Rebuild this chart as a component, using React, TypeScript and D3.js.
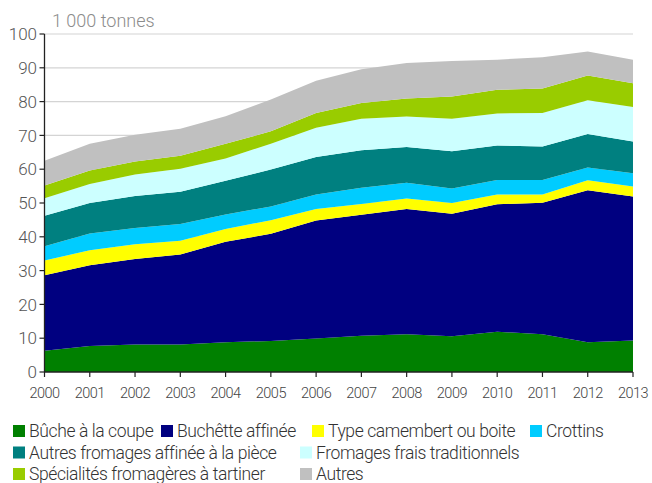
import React from "react";
import * as d3 from "d3";

const years = [2000, 2001, 2002, 2003, 2004, 2005, 2006, 2007, 2008, 2009, 2010, 2011, 2012, 2013];
const buche = [6.3, 7.7, 8.1, 8.1, 8.8, 9.2, 9.9, 10.7, 11.2, 10.6, 11.9, 11.2, 8.8, 9.3];
const buchette = [22.3, 23.9, 25.3, 26.7, 29.7, 31.7, 34.9, 35.8, 37.0, 36.2, 37.7, 38.9, 45.0, 42.6];
const camembert = [4.4, 4.4, 4.4, 4.0, 3.8, 4.0, 3.4, 3.2, 3.1, 3.2, 2.9, 2.4, 2.9, 3.0];
const crottins = [4.2, 5.0, 4.8, 5.0, 4.3, 4.1, 4.3, 4.8, 4.7, 4.3, 4.3, 4.3, 3.8, 3.9];
const autresAffines = [9.0, 9.0, 9.5, 9.5, 10.0, 10.9, 11.1, 11.1, 10.6, 11.0, 10.2, 9.9, 9.9, 9.4];
const fraisTrad = [5.2, 5.6, 6.3, 6.8, 6.6, 7.6, 8.7, 9.3, 9.0, 9.6, 9.5, 9.9, 10.0, 10.2];
const tartiner = [3.8, 4.0, 3.9, 3.9, 4.3, 3.7, 4.3, 4.7, 5.3, 6.6, 7.0, 7.3, 7.3, 7.0];
const autres = [7.3, 7.9, 7.9, 8.0, 8.2, 9.4, 9.6, 10.0, 10.5, 10.5, 8.9, 9.2, 7.1, 7.0];

const seriesNames = [
  "Bûche à la coupe",
  "Buchêtte affinée",
  "Type camembert ou boite",
  "Crottins",
  "Autres fromages affinée à la pièce",
  "Fromages frais traditionnels",
  "Spécialités fromagères à tartiner",
  "Autres",
];
const seriesValues = [buche, buchette, camembert, crottins, autresAffines, fraisTrad, tartiner, autres];
const colors = ["#008000", "#000080", "#FFFF00", "#00CCFF", "#008080", "#CCFFFF", "#99CC00", "#C0C0C0"];
const yTicks = [0, 10, 20, 30, 40, 50, 60, 70, 80, 90, 100];
const unitLabel = "1 000 tonnes";

// legend layout (row, x of square)
const legendPos = [
  [0, 13], [0, 161], [0, 312], [0, 530],
  [1, 13], [1, 300],
  [2, 13], [2, 300],
];

const FONT = "Roboto, 'Noto Sans', sans-serif";

export default function App() {
  const W = 652, H = 483;
  const x = d3.scaleLinear().domain([2000, 2013]).range([44.5, 633]);
  const y = d3.scaleLinear().domain([0, 100]).range([372, 34]);

  const rows = years.map((yr, i) => {
    const r: any = { year: yr };
    seriesNames.forEach((n, k) => (r[n] = seriesValues[k][i]));
    return r;
  });
  const stacked = d3.stack().keys(seriesNames)(rows as any);
  const area = d3
    .area<any>()
    .x((d) => x(d.data.year))
    .y0((d) => y(d[0]))
    .y1((d) => y(d[1]));

  return (
    <svg width={W} height={H} style={{ position: "absolute", left: 0, top: 0, background: "#fff" }}>
      <text x={52} y={27} fontFamily={FONT} fontWeight={300} fontSize={18} fill="#8c8c8c">
        {unitLabel}
      </text>
      {yTicks.filter((t) => t > 0).map((t) => (
        <line key={"g" + t} x1={x(2000)} x2={x(2013)} y1={y(t)} y2={y(t)} stroke="#d4d4d4" strokeWidth={1.2} />
      ))}
      {stacked.map((s, k) => (
        <path key={k} d={area(s as any) || ""} fill={colors[k]} />
      ))}
      {/* y axis */}
      <line x1={x(2000)} x2={x(2000)} y1={y(100)} y2={y(0)} stroke="#222" strokeWidth={1.3} />
      {yTicks.map((t) => (
        <g key={"y" + t}>
          <line x1={x(2000) - 5} x2={x(2000)} y1={y(t)} y2={y(t)} stroke="#222" strokeWidth={1.2} />
          <text x={37} y={y(t)} dy="0.36em" textAnchor="end" fontFamily={FONT} fontWeight={300} fontSize={17} fill="#555">
            {t}
          </text>
        </g>
      ))}
      {/* x axis */}
      <line x1={x(2000)} x2={x(2013)} y1={y(0)} y2={y(0)} stroke="#222" strokeWidth={1.3} />
      {years.map((yr) => (
        <g key={"x" + yr}>
          <line x1={x(yr)} x2={x(yr)} y1={y(0)} y2={y(0) + 5} stroke="#222" strokeWidth={1.2} />
          <text x={x(yr)} y={398} textAnchor="middle" fontFamily={FONT} fontWeight={300} fontSize={14.5} fill="#444" letterSpacing={-0.5}>
            {yr}
          </text>
        </g>
      ))}
      {/* legend */}
      {seriesNames.map((n, k) => {
        const [row, lx] = legendPos[k];
        const base = 437 + row * 21.5;
        return (
          <g key={"l" + k}>
            <rect x={lx} y={base - 12} width={12} height={12} fill={colors[k]} />
            <text x={lx + 16} y={base} fontFamily={FONT} fontWeight={300} fontSize={17.5} fill="#333" letterSpacing={-0.4}>
              {n}
            </text>
          </g>
        );
      })}
    </svg>
  );
}
